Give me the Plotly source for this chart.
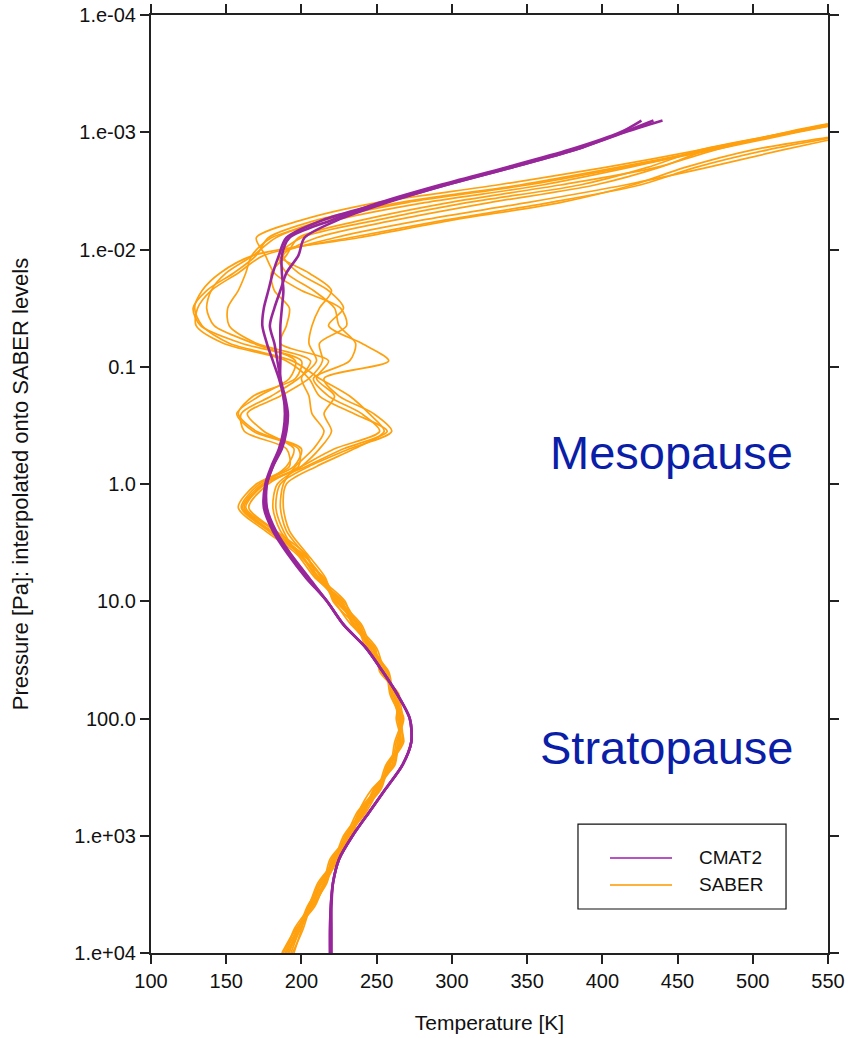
import plotly.graph_objects as go

# SABER pressure levels [Pa]
pressure = [1e4, 6310, 3981, 2512, 1585, 1000, 631.0, 398.1, 251.2, 158.5,
            100.0, 63.10, 39.81, 25.12, 15.85, 10.0, 6.310, 3.981, 2.512, 1.585,
            1.0, 0.7079, 0.5012, 0.3548, 0.2512, 0.1778, 0.1259, 0.08913, 0.06310, 0.04467,
            0.03162, 0.02239, 0.01585, 0.01122, 0.007943, 0.005623, 0.003981, 0.002818, 0.001995, 0.001413,
            0.001, 0.0007943]

# CMAT2 temperature profiles [K]
cmat2_a = [219, 219, 219.5, 221, 225, 234, 245, 256, 267, 273, 272, 264, 254, 243, 228, 217, 203, 191,
           181, 175, 176, 180, 185, 188, 189, 188, 185, 181, 177, 174, 175, 178, 181, 185, 190, 214,
           255, 296, 340, 382, 415, 440]
cmat2_b = [219, 219, 219.5, 221, 225, 234, 245, 256, 267, 273, 272, 264, 254, 243, 228, 217, 204, 192,
           182, 176, 177, 181, 186, 189, 190, 188, 186, 184, 182, 179, 182, 186, 190, 198, 202, 224,
           257, 296, 340, 382, 414, 434]
cmat2_c = [220, 220, 220, 221, 225, 234, 245, 256, 267, 273, 272, 264, 254, 243, 228, 217, 205, 193,
           183, 177, 177, 181, 187, 190, 191, 189, 186, 186, 186, 186, 187, 188, 187, 187, 192, 220,
           252, 292, 336, 378, 412, 426]

# SABER temperature profiles [K]
saber_1 = [189, 197, 205, 215, 221, 232, 238, 251, 258, 266, 264, 263, 253, 247, 234, 226, 210, 199,
           178, 160, 172, 195, 200, 170, 158, 168, 196, 200, 160, 133, 128, 137, 155, 170, 178, 210,
           265, 345, 410, 470, 525, 565]
saber_2 = [193, 199, 207, 213, 224, 230, 242, 249, 261, 264, 267, 260, 257, 244, 238, 223, 214, 201,
           180, 162, 176, 203, 228, 257, 235, 212, 205, 190, 148, 130, 131, 140, 158, 175, 232, 295,
           365, 425, 462, 510, 572, 610]
saber_3 = [188, 196, 208, 216, 220, 233, 239, 252, 257, 267, 265, 264, 254, 248, 235, 227, 211, 203,
           183, 165, 178, 200, 222, 252, 240, 218, 208, 232, 236, 225, 222, 208, 190, 185, 200, 250,
           310, 385, 430, 465, 525, 565]
saber_4 = [195, 200, 205, 212, 223, 229, 241, 248, 260, 263, 268, 261, 258, 245, 239, 224, 215, 198,
           188, 183, 186, 205, 232, 260, 248, 225, 215, 258, 240, 218, 228, 218, 198, 188, 210, 262,
           325, 395, 438, 470, 528, 568]
saber_5 = [190, 198, 204, 214, 225, 231, 243, 251, 256, 266, 263, 265, 252, 249, 233, 222, 213, 202,
           190, 186, 188, 196, 208, 215, 207, 205, 200, 206, 170, 152, 151, 158, 163, 167, 180, 222,
           282, 360, 418, 470, 528, 568]
saber_6 = [192, 197, 207, 217, 221, 234, 238, 247, 262, 264, 266, 259, 256, 243, 237, 228, 209, 197,
           176, 158, 170, 192, 190, 162, 160, 180, 198, 210, 205, 207, 212, 220, 205, 185, 222, 280,
           350, 415, 470, 520, 575, 612]
saber_7 = [194, 201, 206, 213, 222, 228, 240, 253, 258, 268, 264, 262, 255, 250, 236, 221, 216, 204,
           192, 188, 190, 210, 235, 255, 245, 232, 212, 194, 152, 134, 129, 134, 146, 168, 238, 300,
           372, 420, 455, 500, 570, 608]
saber_8 = [187, 196, 209, 215, 219, 232, 241, 249, 259, 262, 267, 264, 253, 246, 240, 225, 210, 200,
           182, 163, 175, 190, 195, 175, 164, 186, 205, 214, 212, 230, 226, 200, 182, 176, 170, 200,
           250, 330, 402, 465, 523, 562]
saber_9 = [191, 199, 205, 211, 223, 230, 237, 250, 261, 265, 265, 260, 257, 247, 234, 229, 212, 199,
           186, 181, 184, 200, 212, 220, 215, 222, 210, 218, 186, 190, 192, 182, 180, 190, 198, 240,
           298, 372, 436, 475, 522, 562]
saber_10 = [190, 195, 206, 216, 224, 231, 240, 252, 257, 267, 266, 263, 254, 245, 237, 223, 214, 201,
            179, 161, 174, 198, 198, 168, 157, 172, 192, 196, 168, 142, 137, 140, 150, 168, 183, 215,
            270, 350, 414, 474, 530, 570]

saber_profiles = [saber_1, saber_2, saber_3, saber_4, saber_5,
                  saber_6, saber_7, saber_8, saber_9, saber_10]
cmat2_profiles = [cmat2_a, cmat2_b, cmat2_c]

y_tickvals = [1e-4, 1e-3, 1e-2, 0.1, 1.0, 10.0, 100.0, 1e3, 1e4]
y_ticktext = ["1.e-04", "1.e-03", "1.e-02", "0.1", "1.0", "10.0", "100.0", "1.e+03", "1.e+04"]
x_tickvals = [100, 150, 200, 250, 300, 350, 400, 450, 500, 550]

ORANGE = "#ffa00f"
PURPLE = "#98269b"
FONT = "Liberation Sans, Arial, Helvetica, sans-serif"

fig = go.Figure()
for prof in saber_profiles:
    fig.add_trace(go.Scatter(x=prof, y=pressure, mode="lines", name="SABER",
                             line=dict(color=ORANGE, width=1.7, shape="spline", smoothing=0.8),
                             showlegend=False))
for prof in cmat2_profiles:
    fig.add_trace(go.Scatter(x=prof, y=pressure, mode="lines", name="CMAT2",
                             line=dict(color=PURPLE, width=2.6, shape="spline", smoothing=0.8),
                             showlegend=False))

axis_common = dict(showline=True, mirror="ticks", linecolor="#222", linewidth=2,
                   ticks="outside", ticklen=9, tickwidth=2, tickcolor="#222",
                   showgrid=False, zeroline=False, automargin=False,
                   ticklabeloverflow="allow",
                   tickfont=dict(family=FONT, size=20, color="#111"))

fig.update_xaxes(range=[100, 550], tickvals=x_tickvals,
                 title=dict(text="Temperature [K]", font=dict(family=FONT, size=21, color="#111"), standoff=24),
                 **axis_common)
fig.update_yaxes(type="log", range=[4, -4], tickvals=y_tickvals, ticktext=y_ticktext,
                 title=dict(text="Pressure [Pa]: interpolated onto SABER levels",
                            font=dict(family=FONT, size=22, color="#111"), standoff=40),
                 **axis_common)

# Legend box (drawn manually to match the reference layout)
fig.add_shape(type="rect", xref="paper", yref="paper", x0=0.6307, x1=0.9380, y0=0.0469, y1=0.1375,
              line=dict(color="#111", width=1.2), fillcolor="white")
fig.add_shape(type="line", xref="paper", yref="paper", x0=0.678, x1=0.7696, y0=0.1013, y1=0.1013,
              line=dict(color="#b853c4", width=2))
fig.add_shape(type="line", xref="paper", yref="paper", x0=0.678, x1=0.7696, y0=0.0725, y1=0.0725,
              line=dict(color="#ffb13d", width=2))
fig.add_annotation(xref="paper", yref="paper", x=0.8065, y=0.1013, text="CMAT2", showarrow=False,
                   xanchor="left", yanchor="middle", font=dict(family=FONT, size=19, color="#111"))
fig.add_annotation(xref="paper", yref="paper", x=0.8065, y=0.0725, text="SABER", showarrow=False,
                   xanchor="left", yanchor="middle", font=dict(family=FONT, size=19, color="#111"))

fig.add_annotation(xref="paper", yref="paper", x=0.9513, y=0.534, text="Mesopause", showarrow=False,
                   xanchor="right", yanchor="middle", font=dict(family=FONT, size=47, color="#0a1ea8"))
fig.add_annotation(xref="paper", yref="paper", x=0.9513, y=0.2186, text="Stratopause", showarrow=False,
                   xanchor="right", yanchor="middle", font=dict(family=FONT, size=47, color="#0a1ea8"))

fig.update_layout(width=848, height=1038, margin=dict(l=151, r=20, t=15, b=85),
                  plot_bgcolor="white", paper_bgcolor="white", showlegend=False,
                  font=dict(family=FONT))

# remove the browser's default page margin so the figure sits at the window's corner
fig.write_html("out.html", config={"displayModeBar": False},
               post_script="document.body.style.margin='0';document.body.style.overflow='hidden';")
